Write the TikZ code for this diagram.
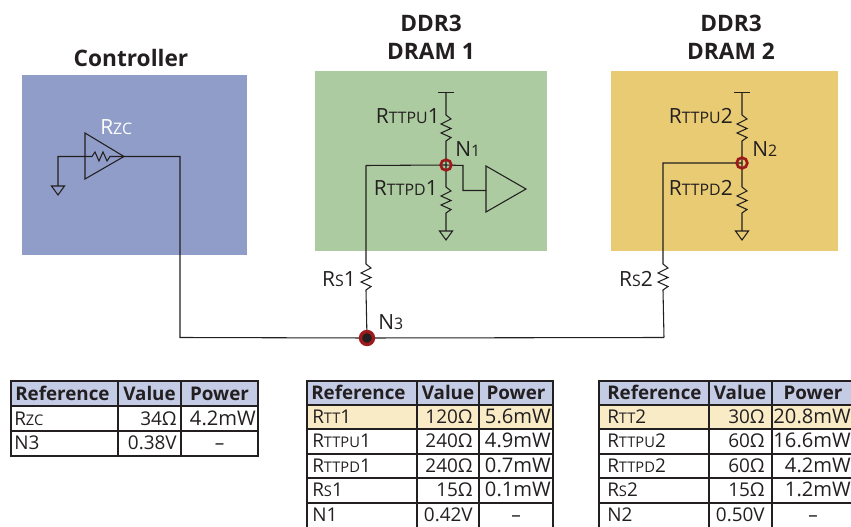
\documentclass[tikz,border=0pt]{standalone}
\usepackage{fontspec}
\setmainfont{Open Sans}
\definecolor{ctrlblue}{HTML}{8F9DC8}
\definecolor{dramgreen}{HTML}{ACCBA0}
\definecolor{dramyellow}{HTML}{E8CB72}
\definecolor{headblue}{HTML}{C4CBE4}
\definecolor{hilite}{HTML}{F8EBC6}
\definecolor{ink}{HTML}{231F20}
\definecolor{ringred}{HTML}{9C1A1C}
\newcommand{\sm}[1]{{\fontsize{11.9}{14}\selectfont #1}}
\newcommand{\tsm}[1]{{\fontsize{11}{14}\selectfont #1}}
\tikzset{
  wire/.style={draw=ink,line width=0.8pt},
  lbl/.style={text=ink,font=\fontsize{15.7}{18}\selectfont,inner sep=0pt},
  title/.style={text=ink,font=\fontsize{17}{21}\selectfont\bfseries,inner sep=0pt,align=center},
  cellt/.style={text=ink,font=\fontsize{14.2}{17}\selectfont,inner sep=0pt,anchor=base},
  cellp/.style={text=ink,font=\fontsize{15.1}{17}\selectfont,inner sep=0pt,anchor=base},
  cellb/.style={text=ink,font=\fontsize{14.1}{17}\selectfont\bfseries,inner sep=0pt,anchor=base},
  grid/.style={draw=ink,line width=1.1pt},
  ring/.style={circle,draw=ringred,line width=2pt,minimum size=8pt,inner sep=0pt},
}
\newcommand{\resv}{-- ++(5,4) -- ++(-10,5) -- ++(10,4.5) -- ++(-10,4.5) -- ++(10,4.5) -- ++(-5,3.5)}
\newcommand{\resh}{-- ++(3,-4.5) -- ++(4,9) -- ++(4,-9) -- ++(4,9) -- ++(3,-4.5)}
\newcommand{\gnd}[1]{\draw[wire] (#1) -- ++(-6.5,0) -- ++(6.5,9) -- ++(6.5,-9) -- cycle;}
\begin{document}
\begin{tikzpicture}[x=0.75pt,y=-0.75pt]
\useasboundingbox (0,0) rectangle (851,527);
% panels
\fill[ctrlblue] (22,75) rectangle (247,255);
\fill[dramgreen] (315,71) rectangle (547,251);
\fill[dramyellow] (611,71) rectangle (838,251);
% titles
\node[title] (tc) at (131,58) {Controller};
\node[title] (td1) at (431,37) {DDR3\\[0pt]DRAM 1};
\node[title] (td2) at (731,37) {DDR3\\[0pt]DRAM 2};
% coordinates
\coordinate (n3) at (367,338);
\coordinate (n1) at (446,165);
\coordinate (n2) at (742,163);
\coordinate (zcout) at (124,156.5);
\coordinate (zcgnd) at (58,156.5);
\coordinate (g0) at (58,186);
\coordinate (bend0) at (180,156.5);
\coordinate (bend0b) at (180,337.5);
\coordinate (bend2) at (664,337.5);
% controller driver
\draw[wire] (85,133) -- (124,156.5) -- (85,179) -- cycle;
\draw[wire] (g0) -- (zcgnd) -- (92,156.5) \resh -- (zcout);
\gnd{g0}
\draw[wire] (zcout) -- (bend0) -- (bend0b) -- (n3);
\draw[wire] (n3) -- (bend2);
\node[lbl,text=white,anchor=base west] (lzc) at (100,135) {R\sm{ZC}};
% DRAM 1
\coordinate (t1) at (446,92.5);
\coordinate (g1) at (446,231);
\draw[wire] (438,92.5) -- (454,92.5);
\draw[wire] (t1) -- (446,115) \resv -- (n1);
\draw[wire] (n1) -- (446,187) \resv -- (g1);
\gnd{g1}
\draw[wire] (366,165.5) -- (n1) -- (463,165.5) -- (463,190.5) -- (486,190.5);
\draw[wire] (486,166) -- (526,189) -- (486,212) -- cycle;
\coordinate (rs1t) at (366,264);
\draw[wire] (366,165.5) -- (rs1t) \resv -- (n3);
\node[ring] (r1) at (n1) {};
\node[lbl,anchor=base east] (l1a) at (440,124) {R\sm{TTPU}1};
\node[lbl,anchor=base east] (l1b) at (438,196) {R\sm{TTPD}1};
\node[lbl,anchor=base west] (l1c) at (455,157) {N\sm{1}};
\node[lbl,anchor=base east] (l1d) at (356,287) {R\sm{S}1};
% DRAM 2
\coordinate (t2) at (742,92.5);
\coordinate (g2) at (742,231);
\draw[wire] (734,92.5) -- (750,92.5);
\draw[wire] (t2) -- (742,115) \resv -- (n2);
\draw[wire] (n2) -- (742,187) \resv -- (g2);
\gnd{g2}
\draw[wire] (n2) -- (663,163) -- (663,264) \resv -- (bend2);
\node[ring] (r2) at (n2) {};
\node[lbl,anchor=base east] (l2a) at (733,124) {R\sm{TTPU}2};
\node[lbl,anchor=base east] (l2b) at (733,196) {R\sm{TTPD}2};
\node[lbl,anchor=base west] (l2c) at (752,157) {N\sm{2}};
\node[lbl,anchor=base east] (l2d) at (653,287) {R\sm{S}2};
% N3
\fill[ink] (n3) circle[radius=6];
\draw[ringred,line width=2.5pt] (n3) circle[radius=6.5];
\node[lbl,anchor=base west] (l3) at (378,330) {N\sm{3}};
% ---- table 1
\fill[headblue] (11,381) rectangle (258,406);
\draw[grid] (11,381) rectangle (258,456);
\foreach \yy in {406,431} \draw[grid] (11,\yy) -- (258,\yy);
\foreach \xx in {118,181} \draw[grid] (\xx,381) -- (\xx,456);
\node[cellb,anchor=base west] (a1) at (15,401) {Reference};
\node[cellb] (a2) at (149.5,401) {Value};
\node[cellb] (a3) at (219.5,401) {Power};
\node[cellt,anchor=base west] (a4) at (14,426) {R\tsm{ZC}};
\node[cellt,anchor=base east] (a5) at (177,426) {34Ω};
\node[cellp,anchor=base east] (a6) at (256,426) {4.2mW};
\node[cellt,anchor=base west] (a7) at (14,450) {N3};
\node[cellt,anchor=base east] (a8) at (177,450) {0.38V};
\node[cellt] (a9) at (219.5,450) {–};
% ---- table 2
\fill[headblue] (307,381) rectangle (553,405);
\fill[hilite] (307,405) rectangle (553,429);
\draw[grid] (307,527) -- (307,381) -- (553,381) -- (553,527);
\foreach \yy in {405,429,454,478,503} \draw[grid] (307,\yy) -- (553,\yy);
\foreach \xx in {417,479} \draw[grid] (\xx,381) -- (\xx,527);
\node[cellb,anchor=base west] (b1) at (311,400) {Reference};
\node[cellb] (b2) at (448,400) {Value};
\node[cellb] (b3) at (516,400) {Power};
\node[cellt,anchor=base west] (b4) at (312,424) {R\tsm{TT}1};
\node[cellt,anchor=base east] (b5) at (473,424) {120Ω};
\node[cellp,anchor=base east] (b6) at (551,424) {5.6mW};
\node[cellt,anchor=base west] (b7) at (312,448) {R\tsm{TTPU}1};
\node[cellt,anchor=base east] (b8) at (473,448) {240Ω};
\node[cellp,anchor=base east] (b9) at (551,448) {4.9mW};
\node[cellt,anchor=base west] (b10) at (312,473) {R\tsm{TTPD}1};
\node[cellt,anchor=base east] (b11) at (473,473) {240Ω};
\node[cellp,anchor=base east] (b12) at (551,473) {0.7mW};
\node[cellt,anchor=base west] (b13) at (312,497) {R\tsm{S}1};
\node[cellt,anchor=base east] (b14) at (473,497) {15Ω};
\node[cellp,anchor=base east] (b15) at (551,497) {0.1mW};
\node[cellt,anchor=base west] (b16) at (312,522) {N1};
\node[cellt,anchor=base east] (b17) at (473,522) {0.42V};
\node[cellt] (b18) at (516,522) {–};
% ---- table 3
\fill[headblue] (599,381) rectangle (851,405);
\fill[hilite] (599,405) rectangle (851,429);
\draw[grid] (599,527) -- (599,381) -- (851,381);
\foreach \yy in {405,429,454,478,503} \draw[grid] (599,\yy) -- (851,\yy);
\foreach \xx in {709,772} \draw[grid] (\xx,381) -- (\xx,527);
\node[cellb,anchor=base west] (c1) at (607,400) {Reference};
\node[cellb] (c2) at (740,400) {Value};
\node[cellb] (c3) at (813,400) {Power};
\node[cellt,anchor=base west] (c4) at (607,424) {R\tsm{TT}2};
\node[cellt,anchor=base east] (c5) at (765,424) {30Ω};
\node[cellp,anchor=base east] (c6) at (851,424) {20.8mW};
\node[cellt,anchor=base west] (c7) at (607,448) {R\tsm{TTPU}2};
\node[cellt,anchor=base east] (c8) at (765,448) {60Ω};
\node[cellp,anchor=base east] (c9) at (851,448) {16.6mW};
\node[cellt,anchor=base west] (c10) at (607,473) {R\tsm{TTPD}2};
\node[cellt,anchor=base east] (c11) at (765,473) {60Ω};
\node[cellp,anchor=base east] (c12) at (851,473) {4.2mW};
\node[cellt,anchor=base west] (c13) at (607,497) {R\tsm{S}2};
\node[cellt,anchor=base east] (c14) at (765,497) {15Ω};
\node[cellp,anchor=base east] (c15) at (851,497) {1.2mW};
\node[cellt,anchor=base west] (c16) at (607,522) {N2};
\node[cellt,anchor=base east] (c17) at (765,522) {0.50V};
\node[cellt] (c18) at (813,522) {–};
\end{tikzpicture}
\end{document}
